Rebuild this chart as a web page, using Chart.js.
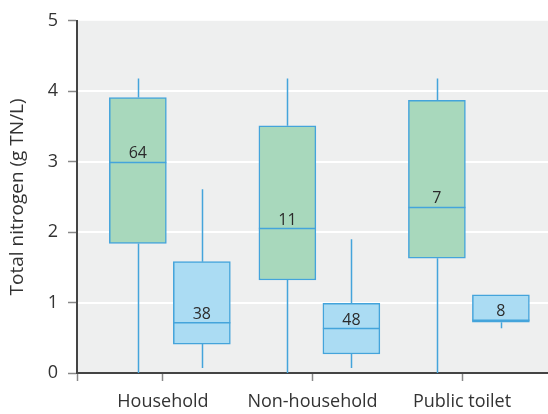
<!DOCTYPE html>
<html>
<head>
<meta charset="utf-8">
<script src="https://cdn.jsdelivr.net/npm/chart.js@4"></script>
<style>
  body { margin: 0; background: #fff; }
  canvas { display: block; }
</style>
</head>
<body>
<canvas id="myChart" width="548" height="414"></canvas>
<script>
const categories = ['Household', 'Non-household', 'Public toilet'];

// green boxes
const greenMin = [0, 0, 0];
const greenQ1 = [1.84, 1.32, 1.63];
const greenMedian = [2.99, 2.05, 2.35];
const greenQ3 = [3.91, 3.51, 3.87];
const greenMax = [4.18, 4.18, 4.18];
const greenN = [64, 11, 7];

// blue boxes
const blueMin = [0.07, 0.07, 0.635];
const blueQ1 = [0.41, 0.27, 0.72];
const blueMedian = [0.715, 0.63, 0.75];
const blueQ3 = [1.58, 0.99, 1.11];
const blueMax = [2.61, 1.9, 1.11];
const blueN = [38, 48, 8];

const yTicks = [0, 1, 2, 3, 4, 5];

const GREEN_SHIFT = -0.168;
const BLUE_SHIFT = 0.26;
const LINE_BLUE = '#44a4db';
const FONT = 'Open Sans';

const boxes = [
  { shift: GREEN_SHIFT, min: greenMin, q1: greenQ1, med: greenMedian, q3: greenQ3, max: greenMax, n: greenN },
  { shift: BLUE_SHIFT, min: blueMin, q1: blueQ1, med: blueMedian, q3: blueQ3, max: blueMax, n: blueN },
];

function boxData(b) {
  return categories.map((c, i) => ({ x: i + 1 + b.shift, y: [b.q1[i], b.q3[i]] }));
}

// grey plot panel with white horizontal rules
const plotBackground = {
  id: 'plotBackground',
  beforeDatasetsDraw(chart) {
    const { ctx, chartArea: a, scales: { y } } = chart;
    ctx.save();
    ctx.fillStyle = '#eeefef';
    ctx.fillRect(a.left + 1, a.top, a.right - a.left - 1, a.bottom - a.top - 1);
    ctx.strokeStyle = '#ffffff';
    ctx.lineWidth = 2;
    y.ticks.forEach((t) => {
      if (t.value <= y.min || t.value >= y.max) return;
      const py = Math.round(y.getPixelForValue(t.value));
      ctx.beginPath();
      ctx.moveTo(a.left + 1, py);
      ctx.lineTo(a.right, py);
      ctx.stroke();
    });
    ctx.restore();
  },
};

const boxExtras = {
  id: 'boxExtras',
  beforeDatasetsDraw(chart) {
    // whiskers sit behind the boxes
    const { ctx, scales: { x, y } } = chart;
    ctx.save();
    ctx.strokeStyle = LINE_BLUE;
    ctx.lineWidth = 1.5;
    boxes.forEach((b) => {
      categories.forEach((c, i) => {
        const px = Math.round(x.getPixelForValue(i + 1 + b.shift)) + 0.5;
        ctx.beginPath();
        ctx.moveTo(px, y.getPixelForValue(b.min[i]));
        ctx.lineTo(px, y.getPixelForValue(b.q1[i]));
        ctx.moveTo(px, y.getPixelForValue(b.q3[i]));
        ctx.lineTo(px, y.getPixelForValue(b.max[i]));
        ctx.stroke();
      });
    });
    ctx.restore();
  },
  afterDatasetsDraw(chart) {
    const { ctx, scales: { y } } = chart;
    ctx.save();
    boxes.forEach((b, d) => {
      const meta = chart.getDatasetMeta(d);
      categories.forEach((c, i) => {
        const bar = meta.data[i];
        const px = bar.x;
        const half = bar.width / 2;
        const py = y.getPixelForValue(b.med[i]);
        ctx.strokeStyle = LINE_BLUE;
        ctx.lineWidth = 1.5;
        ctx.beginPath();
        ctx.moveTo(px - half, py);
        ctx.lineTo(px + half, py);
        ctx.stroke();

        ctx.fillStyle = '#2b2b2b';
        ctx.font = '16px "' + FONT + '"';
        ctx.textAlign = 'center';
        ctx.textBaseline = 'alphabetic';
        ctx.fillText(String(b.n[i]), px, py - 4);
      });
    });
    ctx.restore();
  },
};

const ctx = document.getElementById('myChart').getContext('2d');
const myChart = new Chart(ctx, {
  type: 'bar',
  data: {
    datasets: [
      {
        data: boxData(boxes[0]),
        backgroundColor: '#a8d8bc',
        borderColor: LINE_BLUE,
        borderWidth: 1.5,
        borderSkipped: false,
        barThickness: 57,
        grouped: false,
      },
      {
        data: boxData(boxes[1]),
        backgroundColor: '#abdcf3',
        borderColor: LINE_BLUE,
        borderWidth: 1.5,
        borderSkipped: false,
        barThickness: 57,
        grouped: false,
      },
    ],
  },
  options: {
    responsive: false,
    animation: false,
    devicePixelRatio: 1,
    layout: { padding: { top: 19, right: 0, left: 0, bottom: 0 } },
    plugins: {
      legend: { display: false },
      tooltip: { enabled: false },
    },
    scales: {
      x: {
        type: 'linear',
        offset: false,
        min: 0.425,
        max: 3.575,
        afterBuildTicks: (axis) => {
          axis.ticks = [axis.min, 1, 2, 3].map((v) => ({ value: v }));
        },
        afterFit: (scale) => { scale.height = 41; },
        ticks: {
          autoSkip: false,
          maxRotation: 0,
          padding: 10,
          color: '#333',
          font: { family: FONT, size: 18 },
          callback: (v) => (Number.isInteger(v) ? categories[v - 1] : ''),
        },
        grid: {
          offset: false,
          drawOnChartArea: false,
          tickLength: 8,
          tickColor: '#888',
          tickWidth: 1.5,
        },
        border: { color: '#444', width: 2 },
      },
      y: {
        min: 0,
        max: 5,
        afterBuildTicks: (axis) => {
          axis.ticks = yTicks.map((v) => ({ value: v }));
        },
        afterFit: (scale) => { scale.width = 77; },
        ticks: {
          padding: 10,
          color: '#333',
          font: { family: FONT, size: 18 },
        },
        grid: {
          drawOnChartArea: false,
          tickLength: 9,
          tickColor: '#888',
          tickWidth: 1.5,
        },
        border: { color: '#444', width: 2 },
        title: {
          display: true,
          text: 'Total nitrogen (g TN/L)',
          color: '#333',
          font: { family: FONT, size: 19 },
          padding: { top: 6, bottom: 0 },
        },
      },
    },
  },
  plugins: [plotBackground, boxExtras],
});
</script>
</body>
</html>
